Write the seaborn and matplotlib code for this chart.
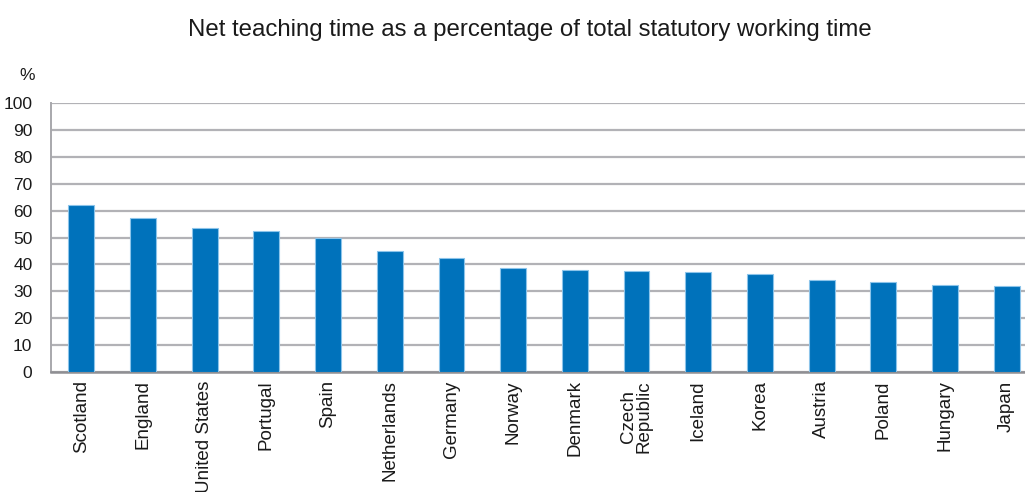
import matplotlib
matplotlib.use("Agg")
import matplotlib.pyplot as plt
import seaborn as sns
import pandas as pd

countries = ["Scotland", "England", "United States", "Portugal", "Spain",
             "Netherlands", "Germany", "Norway", "Denmark", "Czech\nRepublic",
             "Iceland", "Korea", "Austria", "Poland", "Hungary", "Japan"]
share = [62.1, 57.2, 53.7, 52.5, 49.7, 45.1, 42.2, 38.8, 38.1, 37.6,
         37.0, 36.4, 34.3, 33.5, 32.4, 31.8]
y_ticks = [0, 10, 20, 30, 40, 50, 60, 70, 80, 90, 100]

sns.set_style("white")
plt.rcParams["font.family"] = ["Liberation Sans", "DejaVu Sans"]

df = pd.DataFrame({"country": countries, "share": share})

fig = plt.figure(figsize=(10.25, 4.92), dpi=100)
W, H = 1025, 492
ax = fig.add_axes([50.5 / W, (H - 372) / H, 987 / W, 269 / H])

sns.barplot(data=df, x="country", y="share", color="#0072bb", width=0.42,
            edgecolor="#8cc4ea", linewidth=0.8, saturation=1, ax=ax, zorder=3)

ax.set_ylim(0, 100)
ax.set_xlim(-0.5, len(countries) - 0.5)
ax.set_yticks(y_ticks)
ax.yaxis.grid(True, color="#b2b2b6", linewidth=1.6, zorder=0)
ax.set_axisbelow(True)
ax.tick_params(axis="y", length=0, labelsize=12.5, pad=13, colors="#1a1a1a")
ax.tick_params(axis="x", length=0, labelsize=13.5, pad=6, colors="#1a1a1a")
plt.setp(ax.get_xticklabels(), rotation=90, va="top", ha="center",
         linespacing=0.9)
ax.set_xlabel("")
ax.set_ylabel("")

for side in ["top", "right"]:
    ax.spines[side].set_visible(False)
ax.spines["left"].set_color("#a8a8ac")
ax.spines["left"].set_linewidth(1.4)
ax.spines["bottom"].set_color("#8f8f93")
ax.spines["bottom"].set_linewidth(1.8)

fig.text(530 / W, 1 - 30 / H, "Net teaching time as a percentage of total statutory working time",
         ha="center", va="center", fontsize=17.3, color="#1a1a1a")
fig.text(27 / W, 1 - 75 / H, "%", ha="center", va="center", fontsize=12.5,
         color="#1a1a1a")

fig.savefig("out.png", dpi=100)
